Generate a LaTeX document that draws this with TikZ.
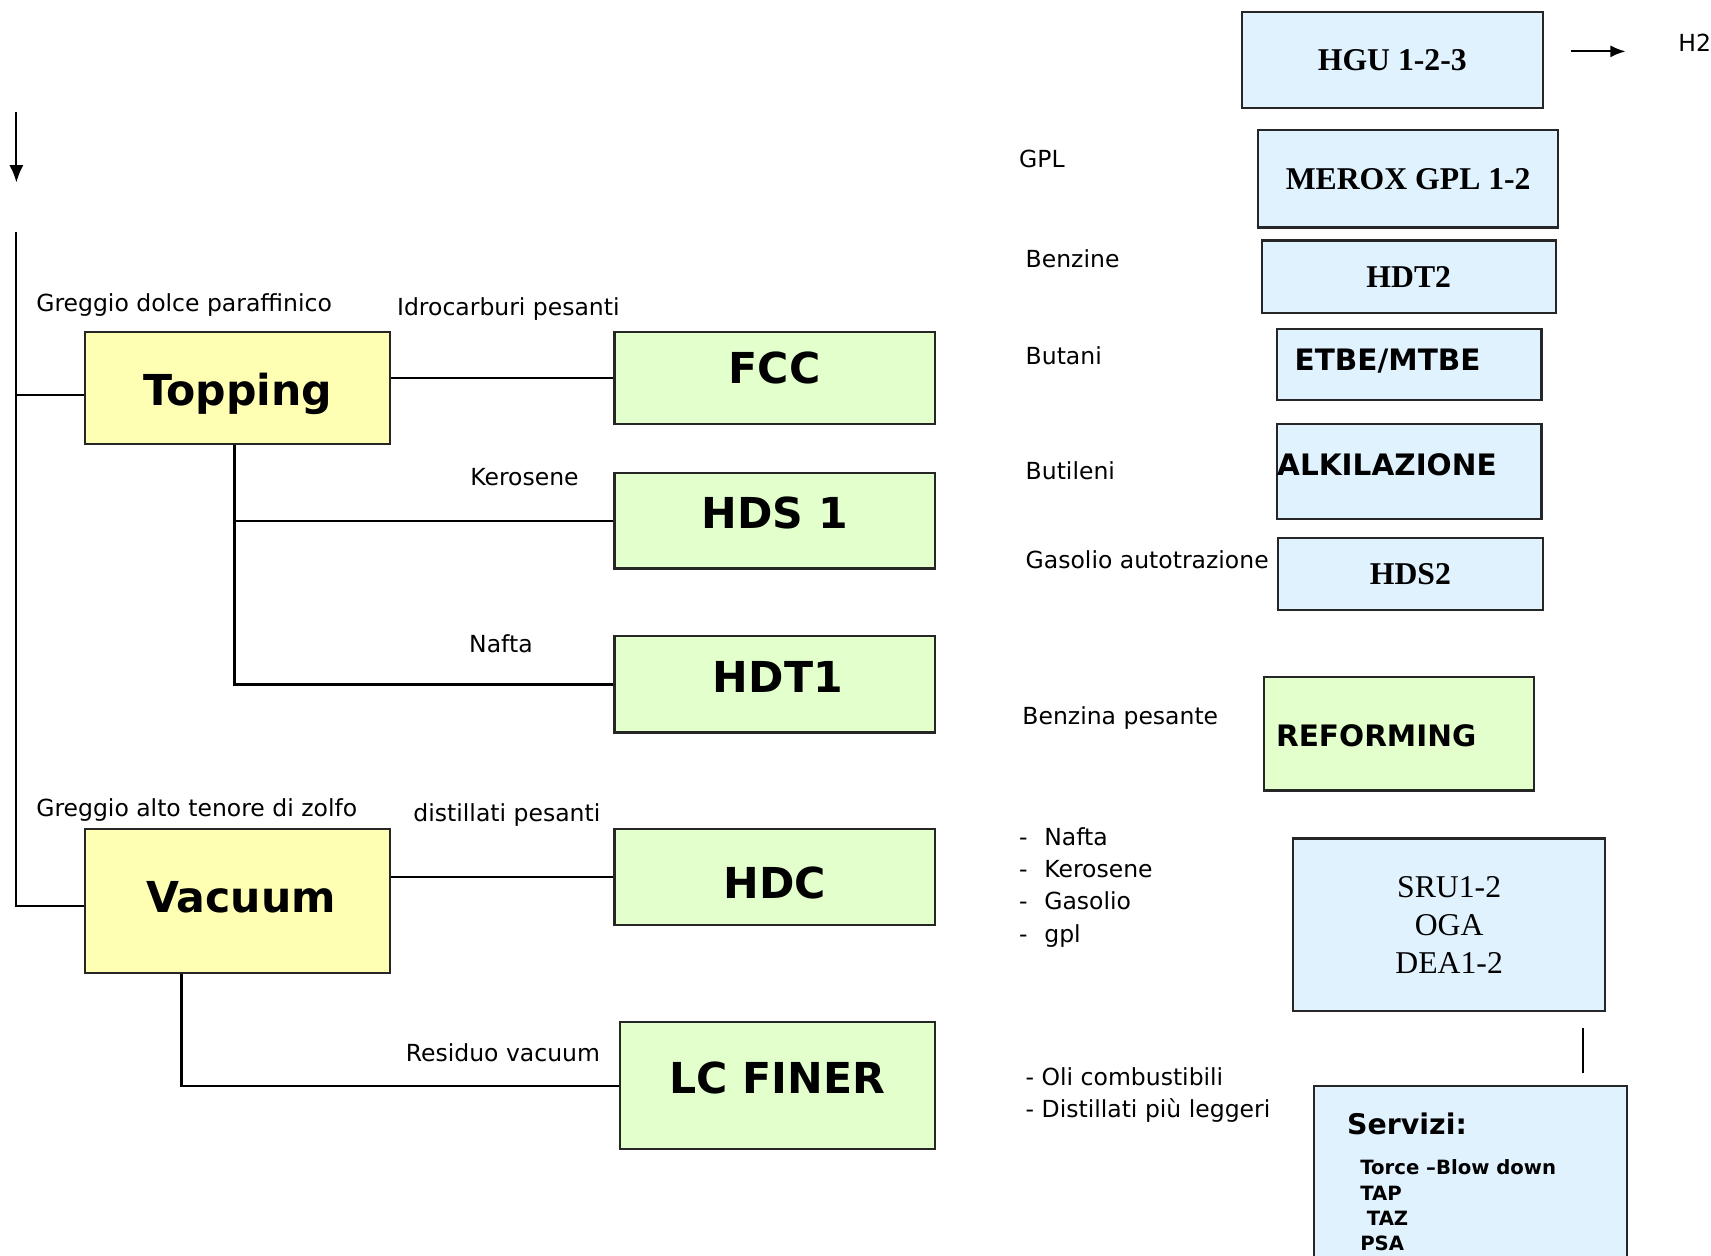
\documentclass[tikz,border=0pt]{standalone}
\usepackage{fontspec}
\setmainfont{DejaVu Sans}
\newfontfamily\tnr{Liberation Serif}
\usetikzlibrary{arrows.meta}
\definecolor{feedyel}{RGB}{255,255,180}
\definecolor{unitgrn}{RGB}{226,255,204}
\definecolor{unitblu}{RGB}{225,242,255}
\tikzset{
  unit/.style={draw=black!85,line width=2pt,inner sep=0pt,anchor=north west},
  flow/.style={line width=2pt},
  lbl/.style={anchor=base west,inner sep=0pt,font=\fontsize{21.5}{26}\selectfont},
  big/.style={inner sep=0pt,font=\fontsize{39}{44}\selectfont\bfseries},
  mid/.style={anchor=west,inner sep=0pt,font=\fontsize{27}{30}\selectfont\bfseries},
  tnrb/.style={font=\fontsize{29}{35}\selectfont\tnr\bfseries}
}
\begin{document}
\begin{tikzpicture}
[x=1pt,y=-1pt]
\useasboundingbox (0,0) rectangle (1565,1148);
\clip (0,0) rectangle (1565,1148);
\node [unit,fill=feedyel,minimum width=279,minimum height=102] (topping) at (77,303) {};
\node [big] (toppingtxt) at ([yshift=-5]topping.center) {Topping};
\node [unit,fill=unitgrn,minimum width=293,minimum height=84] (fcc) at (561,303) {};
\node [big] (fcctxt) at ([yshift=9]fcc.center) {FCC};
\node [unit,fill=unitgrn,minimum width=293,minimum height=87] (hds1) at (561,432) {};
\node [big] (hds1txt) at ([yshift=7]hds1.center) {HDS 1};
\node [unit,fill=unitgrn,minimum width=293,minimum height=88] (hdt1) at (561,581) {};
\node [big] (hdt1txt) at ([xshift=3,yshift=7]hdt1.center) {HDT1};
\node [unit,fill=feedyel,minimum width=279,minimum height=132] (vacuum) at (77,757) {};
\node [big] (vacuumtxt) at ([xshift=3,yshift=3]vacuum.center) {Vacuum};
\node [unit,fill=unitgrn,minimum width=293,minimum height=88] (hdc) at (561,757) {};
\node [big] (hdctxt) at ([yshift=-6]hdc.center) {HDC};
\node [unit,fill=unitgrn,minimum width=288,minimum height=116] (lcfiner) at (566,934) {};
\node [big] (lcfinertxt) at ([yshift=7]lcfiner.center) {LC FINER};
\node [unit,fill=unitblu,minimum width=275,minimum height=88,tnrb] (hgu) at (1135,10) {HGU 1-2-3};
\node [unit,fill=unitblu,minimum width=274,minimum height=89,tnrb] (merox) at (1150,118) {MEROX GPL 1-2};
\node [unit,fill=unitblu,minimum width=269,minimum height=66,tnrb] (hdt2) at (1153,219) {HDT2};
\node [unit,fill=unitblu,minimum width=242,minimum height=65] (etbe) at (1167,300) {};
\node [mid] (etbetxt) at ([xshift=17,yshift=3.5]etbe.west) {ETBE/MTBE};
\node [unit,fill=unitblu,minimum width=242,minimum height=87] (alkil) at (1167,387) {};
\node [mid] (alkiltxt) at ([xshift=1,yshift=6.5]alkil.west) {ALKILAZIONE};
\node [unit,fill=unitblu,minimum width=242,minimum height=66,tnrb] (hds2) at (1168,491) {HDS2};
\node [unit,fill=unitgrn,minimum width=247,minimum height=104] (reform) at (1155,618) {};
\node [mid] (reformtxt) at ([xshift=12,yshift=-2]reform.west) {REFORMING};
\node [unit,fill=unitblu,minimum width=285,minimum height=158,align=center,font=\fontsize{29}{34.5}\selectfont\tnr] (sru) at (1182,766) {SRU1-2\\OGA\\DEA1-2};
\node [unit,fill=unitblu,minimum width=286,minimum height=230] (serv) at (1201,992) {};
\node [lbl,font=\fontsize{26}{30}\selectfont\bfseries] (servtxt) at (1232,1038) {Servizi:};
\foreach \s/\t/\yy in {0/{Torce --Blow down}/1074,0/TAP/1098,6/TAZ/1121,0/PSA/1144}
  \node [lbl,font=\fontsize{18}{22}\selectfont\bfseries] at (1244+\s,\yy) {\t};
\node [lbl] (grdolce) at (33,285) {Greggio dolce paraffinico};
\node [lbl] (idroc) at (363,289) {Idrocarburi pesanti};
\node [lbl] (keros) at (430,444) {Kerosene};
\node [lbl] (nafta) at (429,597) {Nafta};
\node [lbl] (gralto) at (33,747) {Greggio alto tenore di zolfo};
\node [lbl] (distp) at (378,751) {distillati pesanti};
\node [lbl] (resvac) at (371,971) {Residuo vacuum};
\node [lbl] (gpl) at (932,153) {GPL};
\node [lbl] (benzine) at (938,245) {Benzine};
\node [lbl] (butani) at (938,333) {Butani};
\node [lbl] (butileni) at (938,439) {Butileni};
\node [lbl] (gasolio) at (938,520) {Gasolio autotrazione};
\node [lbl] (benzpes) at (935,663) {Benzina pesante};
\foreach \t/\yy in {Nafta/773,Kerosene/803,Gasolio/832,gpl/862}
  {\node [lbl] at (932,\yy) {-};
   \node [lbl] at (955,\yy) {\t};}
\node [lbl] (oli) at (938,993) {- Oli combustibili};
\node [lbl] (distl) at (938,1022) {- Distillati più leggeri};
\node [lbl] (h2) at (1535,47) {H2};
\coordinate (feedtop) at (15,102);
\coordinate (feedtip) at (15,167);
\coordinate (feed) at (15,212);
\coordinate (topin) at ([yshift=-6]topping.west);
\coordinate (h2from) at (1437,47);
\draw [flow,-{Latex[length=16pt,width=13pt]}] (feedtop) -- (feedtip);
\draw [flow] (feed) |- ([yshift=-5]vacuum.west);
\draw [flow] (feed |- topin) -- (topin);
\draw [flow] (topping.east |- fcc.west) -- (fcc.west);
\draw [flow] ([xshift=-3]topping.south) |- (hdt1.west);
\draw [flow] ([xshift=-3]topping.south |- hds1.west) -- (hds1.west);
\draw [flow] (vacuum.east |- hdc.west) -- (hdc.west);
\draw [flow] ([xshift=-51.5]vacuum.south) |- (lcfiner.west);
\draw [flow,-{Latex[length=14pt,width=11pt]}] (h2from) -- ([xshift=-48]h2.base west);
\draw [flow] ([shift={(-21,14)}]sru.south east) -- ([shift={(-41,-11)}]serv.north east);
\end{tikzpicture}
\end{document}
